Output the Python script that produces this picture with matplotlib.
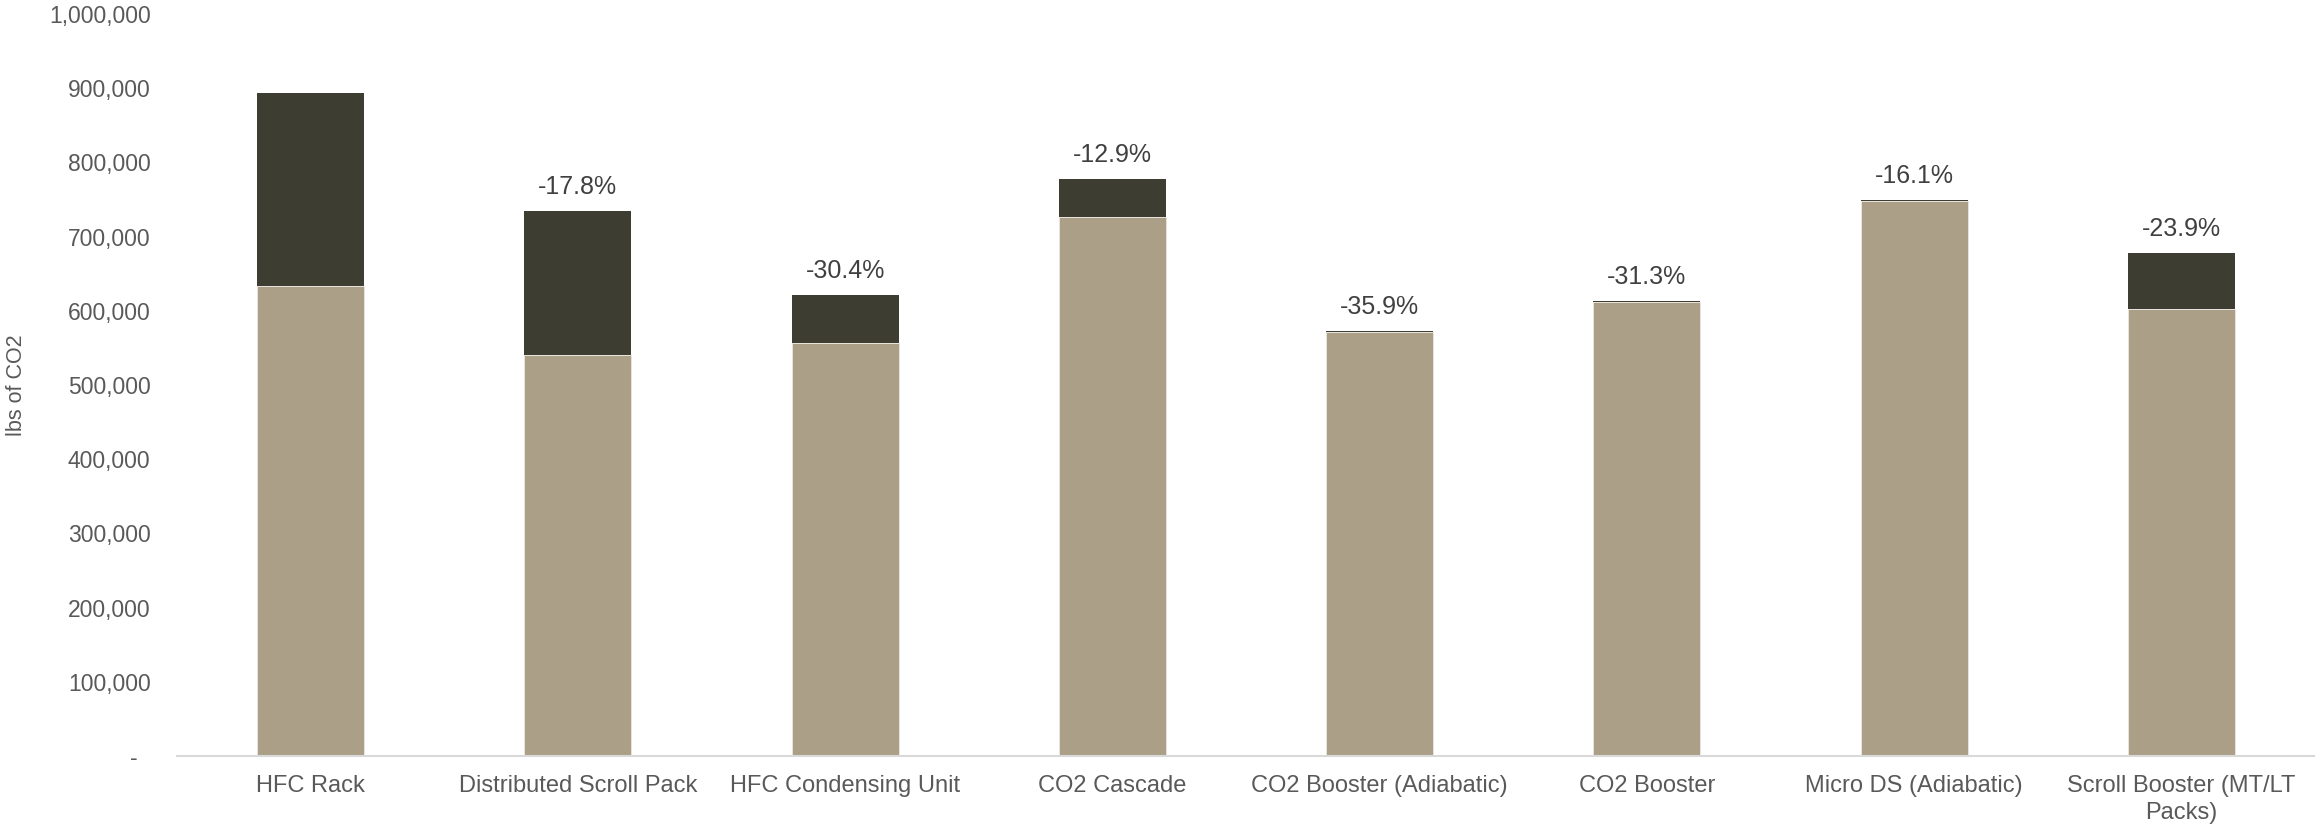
import numpy as np
import matplotlib
matplotlib.use('Agg')
import matplotlib.pyplot as plt
from matplotlib.ticker import FixedLocator, FixedFormatter

plt.rcParams['font.family'] = ['Liberation Sans', 'DejaVu Sans']

# data
categories = ['HFC Rack', 'Distributed Scroll Pack', 'HFC Condensing Unit', 'CO2 Cascade',
              'CO2 Booster (Adiabatic)', 'CO2 Booster', 'Micro DS (Adiabatic)',
              'Scroll Booster (MT/LT\nPacks)']
base_lbs = [633000, 540000, 557000, 726000, 571000, 612000, 748000, 602000]
extra_lbs = [260500, 195000, 64300, 51600, 1400, 1200, 900, 76300]
pct_labels = ['', '-17.8%', '-30.4%', '-12.9%', '-35.9%', '-31.3%', '-16.1%', '-23.9%']
y_ticks = [0, 100000, 200000, 300000, 400000, 500000, 600000, 700000, 800000, 900000, 1000000]
y_tick_labels = ['-  ', '100,000', '200,000', '300,000', '400,000', '500,000',
                 '600,000', '700,000', '800,000', '900,000', '1,000,000']

tan = '#AB9F88'
dark = '#3D3D32'
grey_txt = '#595959'

fig = plt.figure(figsize=(23.15, 8.27), dpi=100)
ax = fig.add_axes([177 / 2315, 1 - 756 / 827, 1 - 177 / 2315, (756 - 14) / 827])

x = np.arange(len(categories))
ax.bar(x, base_lbs, width=0.4, color=tan, edgecolor='#ebe7e0', linewidth=0.6)
ax.bar(x, extra_lbs, width=0.4, bottom=base_lbs, color=dark, edgecolor='none')

# percent labels above stacks
totals = np.array(base_lbs) + np.array(extra_lbs)
for i, lab in enumerate(pct_labels):
    if lab:
        ax.annotate(lab, (x[i], totals[i]), xytext=(0, 24), textcoords='offset pixels',
                    ha='center', va='center', fontsize=18, color='#404040')

ax.set_xlim(-0.5, len(categories) - 0.5)
ax.set_ylim(0, 1000000)
ax.set_xticks(x)
ax.set_xticklabels(categories, fontsize=17, color=grey_txt, linespacing=1.25)
ax.yaxis.set_major_locator(FixedLocator(y_ticks))
ax.yaxis.set_major_formatter(FixedFormatter(y_tick_labels))
ax.tick_params(axis='y', length=0, pad=19, labelsize=16.5, labelcolor=grey_txt)
ax.tick_params(axis='x', length=0, pad=14)
ax.set_ylabel('lbs of CO2', fontsize=15.5, color=grey_txt)
ax.yaxis.set_label_coords(15 / 2315 - 177 / 2315, 0.5, transform=None)

for s in ['top', 'right', 'left']:
    ax.spines[s].set_visible(False)
ax.spines['bottom'].set_color('#D9D9D9')
ax.spines['bottom'].set_linewidth(1.5)

fig.savefig('out.png', dpi=100)
